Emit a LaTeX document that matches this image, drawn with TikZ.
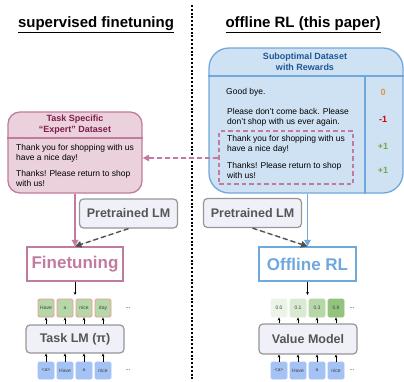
\documentclass[tikz,border=0pt]{standalone}
\usepackage{fontspec}
\setmainfont{Liberation Sans}
\usetikzlibrary{arrows.meta, calc}

\definecolor{dsblue}{RGB}{207,226,243}
\definecolor{dsblueline}{RGB}{111,168,220}
\definecolor{dsbluetext}{RGB}{31,86,150}
\definecolor{dspink}{RGB}{234,209,220}
\definecolor{dspinkline}{RGB}{194,123,160}
\definecolor{dspinktext}{RGB}{128,28,78}
\definecolor{lmfill}{RGB}{240,240,248}
\definecolor{lmline}{RGB}{150,150,150}
\definecolor{lmtext}{RGB}{85,85,85}
\definecolor{tokgreen}{RGB}{182,215,168}
\definecolor{tokpink}{RGB}{234,153,153}
\definecolor{tokblue}{RGB}{164,194,244}
\definecolor{valA}{RGB}{236,244,232}
\definecolor{valB}{RGB}{217,234,211}
\definecolor{valC}{RGB}{182,215,168}
\definecolor{valD}{RGB}{147,196,125}
\definecolor{rwzero}{RGB}{230,145,56}
\definecolor{rwneg}{RGB}{204,0,0}
\definecolor{rwpos}{RGB}{106,168,79}
\definecolor{dashgray}{RGB}{80,80,80}

\begin{document}
\begin{tikzpicture}[
    x=1pt, y=-1pt,
    title/.style={font=\fontsize{15}{17}\selectfont\bfseries, inner sep=0pt},
    dataset/.style={
      rectangle, line width=1.3pt, inner sep=0pt,
    },
    head/.style={font=\fontsize{9}{11}\selectfont\bfseries, align=center, inner sep=0pt},
    body/.style={font=\fontsize{8.5}{10}\selectfont, align=left, anchor=west, inner sep=0pt},
    reward/.style={font=\fontsize{9}{10}\selectfont\bfseries, inner sep=0pt},
    plm/.style={
      rectangle, draw=lmline, line width=1.2pt, rounded corners=4pt,
      fill=lmfill, text=lmtext, font=\fontsize{12.5}{14}\selectfont\bfseries,
      minimum width=98pt, minimum height=29pt, inner sep=0pt,
    },
    trainbox/.style={
      rectangle, fill=white, line width=1.3pt, inner sep=0pt,
      font=\fontsize{17}{19}\selectfont\bfseries,
      minimum width=96pt, minimum height=34pt,
    },
    tok/.style={
      rectangle, rounded corners=1.5pt, line width=0.9pt, inner sep=0pt,
      minimum width=16pt, minimum height=18pt,
      font=\fontsize{5}{6}\selectfont, text=black!75,
    },
    dots/.style={font=\fontsize{6}{6}\selectfont, inner sep=0pt},
    flow/.style={-{Triangle[length=6.5pt, width=6.5pt]}, line width=1.6pt},
    init/.style={-{Triangle[length=6.5pt, width=6.5pt]}, line width=1.4pt,
      dash pattern=on 5pt off 3pt, draw=dashgray, fill=dashgray},
    tokarrow/.style={-{Stealth[length=3pt, width=2.8pt]}, line width=0.7pt},
]
\useasboundingbox (0,0) rectangle (404,381);

% Divider and column titles
\coordinate (divtop) at (192,5);
\coordinate (divbot) at (192,381);
\draw[line width=1.1pt, dash pattern=on 2pt off 1.8pt] (divtop) -- (divbot);
\node[title] (sfttitle) at (96,25) {\underline{supervised finetuning}};
\node[title] (rltitle) at (303,25) {\underline{offline RL (this paper)}};

% Suboptimal dataset with rewards
\node[dataset, draw=dsblueline, fill=dsblue, rounded corners=20pt,
      minimum width=194pt, minimum height=145pt] (subopt) at (306,120.5) {};
\draw[dsblueline, line width=1.3pt] (subopt.west |- 0,76) -- (subopt.east |- 0,76);
\draw[dsblueline, line width=1.3pt] (365,76) -- (365,0 |- subopt.south);
\node[head, text=dsbluetext] (subopthead) at (305,62) {Suboptimal Dataset\\with Rewards};
\node[body] (bye) at (226,92) {Good bye.};
\node[body] (rude) at (227,117) {Please don't come back. Please\\don't shop with us ever again.};
\node[body] (nice) at (227,144) {Thank you for shopping with us\\have a nice day!};
\node[body] (thanks) at (227,170) {Thanks! Please return to shop\\with us!};
\node[reward, text=rwzero] (rw1) at (383,92) {0};
\node[reward, text=rwneg] (rw2) at (383,119) {-1};
\node[reward, text=rwpos] (rw3) at (383,146) {+1};
\node[reward, text=rwpos] (rw4) at (383,170) {+1};

% Selected good examples
\node[rectangle, draw=dspinkline, line width=1.4pt, dash pattern=on 4.5pt off 3pt,
      minimum width=134pt, minimum height=53pt, inner sep=0pt] (goodsel) at (286,157.5) {};

% Task specific expert dataset
\node[dataset, draw=dspinkline, fill=dspink, rounded corners=12pt,
      minimum width=134pt, minimum height=81pt] (expert) at (75,152.5) {};
\draw[dspinkline, line width=1.3pt] (expert.west |- 0,138) -- (expert.east |- 0,138);
\node[head, text=dspinktext] (experthead) at (75,125) {Task Specific\\``Expert'' Dataset};
\node[body] (enice) at (16,153) {Thank you for shopping with us\\have a nice day!};
\node[body] (ethanks) at (16,178) {Thanks! Please return to shop\\with us!};

\draw[flow, draw=dspinkline, fill=dspinkline, dash pattern=on 5pt off 3pt, line width=1.4pt]
    (goodsel.west |- 0,158) -- (expert.east |- 0,158);

% Pretrained LMs
\node[plm] (ptleft) at (128.5,213.5) {Pretrained LM};
\node[plm] (ptright) at (252.5,213) {Pretrained LM};

% Training steps
\node[trainbox, draw=dspinkline, text=dspinkline] (ft) at (75,264) {Finetuning};
\node[trainbox, draw=dsblueline, text=dsblueline, minimum width=97pt] (orl) at (307.5,264) {Offline RL};

\draw[flow, draw=dspinkline, fill=dspinkline] (expert.south -| ft.north) -- (ft.north);
\draw[flow, draw=dsblueline, fill=dsblueline] (orl.north |- subopt.south) -- (orl.north);
\draw[init] (ptleft.south) -- (ft.north);
\draw[init] (ptright.south) -- (orl.north);

% Resulting models
\node[plm, minimum height=28pt] (tasklm) at (75,339) {Task LM (π)};
\node[plm, minimum height=30pt] (valmodel) at (308,339) {Value Model};

\coordinate (ftout) at (75,295);
\coordinate (orlout) at (307.5,295);
\draw[tokarrow] (ft.south) -- (ftout);
\draw[tokarrow] (orl.south) -- (orlout);

% Tokens
\foreach \w [count=\i] in {Have,a,nice,day} {
  \node[tok, fill=tokgreen, draw=tokpink] (lout\i) at (27+19*\i,308) {\w};
  \draw[tokarrow] (tasklm.north -| lout\i) -- (lout\i);
}
\foreach \w [count=\i] in {<a>,Have,a,nice} {
  \node[tok, fill=tokblue, draw=tokblue, minimum height=17pt] (lin\i) at (27+19*\i,370.5) {\w};
  \draw[tokarrow] (lin\i) -- (tasklm.south -| lin\i);
  \node[tok, fill=tokblue, draw=tokblue, minimum height=17pt] (rin\i) at (260+19*\i,370.5) {\w};
  \draw[tokarrow] (rin\i) -- (valmodel.south -| rin\i);
}
\foreach \v/\c [count=\i] in {0.0/valA,0.1/valB,0.3/valC,0.9/valD} {
  \node[tok, fill=\c, draw=\c] (rout\i) at (260+19*\i,308) {\v};
  \draw[tokarrow] (valmodel.north -| rout\i) -- (rout\i);
}
\node[dots] (ldots1) at (128,308) {...};
\node[dots] (ldots2) at (128,370.5) {...};
\node[dots] (rdots1) at (352,308) {...};
\node[dots] (rdots2) at (352,370.5) {...};
\end{tikzpicture}
\end{document}
